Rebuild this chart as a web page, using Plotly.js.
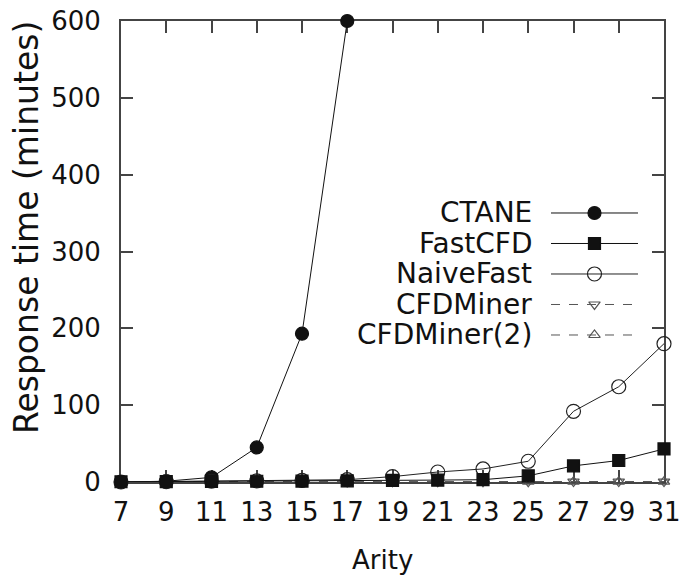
<!DOCTYPE html>
<html>
<head>
<meta charset="utf-8">
<script src="https://cdn.plot.ly/plotly-3.0.1.min.js"></script>
<style>html,body{margin:0;padding:0;background:#fff;}#chart{width:683px;height:575px;}</style>
</head>
<body>
<div id="chart"></div>
<script>
// ---- data ----
const arity = [7, 9, 11, 13, 15, 17, 19, 21, 23, 25, 27, 29, 31];
const arityCtane = [7, 9, 11, 13, 15, 17];
const ctane = [0, 1, 6, 45, 193, 600];
const fastCFD = [0.3, 0.5, 0.8, 1, 1.2, 1.5, 2, 2.5, 3, 8, 21, 28, 43];
const naiveFast = [0, 0.5, 1, 1.5, 2, 3, 7, 13, 17, 27, 92, 124, 180];
const cfdMiner = [0.1, 0.1, 0.1, 0.2, 0.2, 0.2, 0.3, 0.3, 0.4, 0.4, 0.5, 0.5, 0.6];
const cfdMiner2 = [0.1, 0.1, 0.1, 0.1, 0.2, 0.2, 0.2, 0.3, 0.3, 0.3, 0.4, 0.4, 0.5];
const seriesNames = ["CTANE", "FastCFD", "NaiveFast", "CFDMiner", "CFDMiner(2)"];
const xTicks = [7, 9, 11, 13, 15, 17, 19, 21, 23, 25, 27, 29, 31];
const yTicks = [0, 100, 200, 300, 400, 500, 600];

// ---- styles ----
const ink = '#111';
const styles = {
  "CTANE":       {symbol: 'circle', size: 13, color: ink, fill: ink, dash: 'solid', lw: 1},
  "FastCFD":     {symbol: 'square', size: 12, color: ink, fill: ink, dash: 'solid', lw: 1},
  "NaiveFast":   {symbol: 'circle-open', size: 14, color: '#222', fill: '#222', dash: 'solid', lw: 1},
  "CFDMiner":    {symbol: 'triangle-down-open', size: 10, color: '#555', fill: '#555', dash: 'dash', lw: 1},
  "CFDMiner(2)": {symbol: 'triangle-up-open', size: 10, color: '#555', fill: '#555', dash: 'dash', lw: 1}
};
const seriesData = {
  "CTANE": [arityCtane, ctane],
  "FastCFD": [arity, fastCFD],
  "NaiveFast": [arity, naiveFast],
  "CFDMiner": [arity, cfdMiner],
  "CFDMiner(2)": [arity, cfdMiner2]
};
const drawOrder = ["CFDMiner", "CFDMiner(2)", "CTANE", "NaiveFast", "FastCFD"];

const traces = [];
drawOrder.forEach(name => {
  const s = styles[name];
  traces.push({
    type: 'scatter', mode: 'lines+markers', name: name,
    x: seriesData[name][0], y: seriesData[name][1],
    xaxis: 'x', yaxis: 'y', cliponaxis: false, showlegend: false,
    line: {color: s.color, width: s.lw, dash: s.dash},
    marker: {symbol: s.symbol, size: s.size, color: s.fill, line: {color: s.color, width: 1.2}}
  });
});

// custom legend (text on the left, sample on the right)
const legendAnn = [];
seriesNames.forEach((name, i) => {
  const s = styles[name];
  traces.push({
    type: 'scatter', mode: 'lines', showlegend: false, hoverinfo: 'skip',
    x: [0, 1], y: [i, i], xaxis: 'x2', yaxis: 'y2', cliponaxis: false,
    line: {color: s.color, width: s.lw, dash: s.dash}
  });
  traces.push({
    type: 'scatter', mode: 'markers', showlegend: false, hoverinfo: 'skip',
    x: [0.5], y: [i], xaxis: 'x2', yaxis: 'y2', cliponaxis: false,
    marker: {symbol: s.symbol, size: s.size, color: s.fill, line: {color: s.color, width: 1.2}}
  });
  legendAnn.push({
    xref: 'x2', yref: 'y2', x: -0.2, y: i, xanchor: 'right', yanchor: 'middle',
    text: name, showarrow: false,
    font: {family: 'DejaVu Sans, sans-serif', size: 28, color: ink}
  });
});

const tickFont = {family: 'DejaVu Sans, sans-serif', size: 26, color: ink};
const layout = {
  width: 683, height: 575,
  margin: {l: 121, r: 19, t: 21, b: 93},
  paper_bgcolor: '#fff', plot_bgcolor: 'rgba(0,0,0,0)',
  showlegend: false,
  xaxis: {
    range: [7, 31], tickmode: 'array', tickvals: xTicks, ticktext: xTicks.map(String),
    ticks: 'inside', ticklen: 12, tickwidth: 2, tickcolor: '#444',
    showline: true, linecolor: '#444', linewidth: 2, mirror: 'ticks',
    showgrid: false, zeroline: false, tickfont: tickFont, layer: 'below traces',
    ticklabelstandoff: 6
  },
  yaxis: {
    range: [0, 600], tickmode: 'array', tickvals: yTicks, ticktext: yTicks.map(String),
    ticks: 'inside', ticklen: 12, tickwidth: 2, tickcolor: '#444',
    showline: true, linecolor: '#444', linewidth: 2, mirror: 'ticks',
    showgrid: false, zeroline: false, tickfont: tickFont, layer: 'below traces',
    ticklabelstandoff: 13
  },
  xaxis2: {domain: [0, 1], anchor: 'y2', range: [-4.943, 1.299], visible: false, fixedrange: true},
  yaxis2: {domain: [0, 1], anchor: 'x2', range: [8.82, -6.295], visible: false, fixedrange: true},
  annotations: legendAnn.concat([
    {xref: 'paper', yref: 'paper', x: -0.175, y: 0.553, xanchor: 'center', yanchor: 'middle',
     text: 'Response time (minutes)', textangle: -90, showarrow: false,
     font: {family: 'DejaVu Sans, sans-serif', size: 33, color: ink}},
    {xref: 'paper', yref: 'paper', x: 0.481, y: -0.169, xanchor: 'center', yanchor: 'middle',
     text: 'Arity', showarrow: false,
     font: {family: 'DejaVu Sans, sans-serif', size: 26, color: ink}}
  ])
};

Plotly.newPlot('chart', traces, layout, {staticPlot: true, displayModeBar: false});
</script>
</body>
</html>
